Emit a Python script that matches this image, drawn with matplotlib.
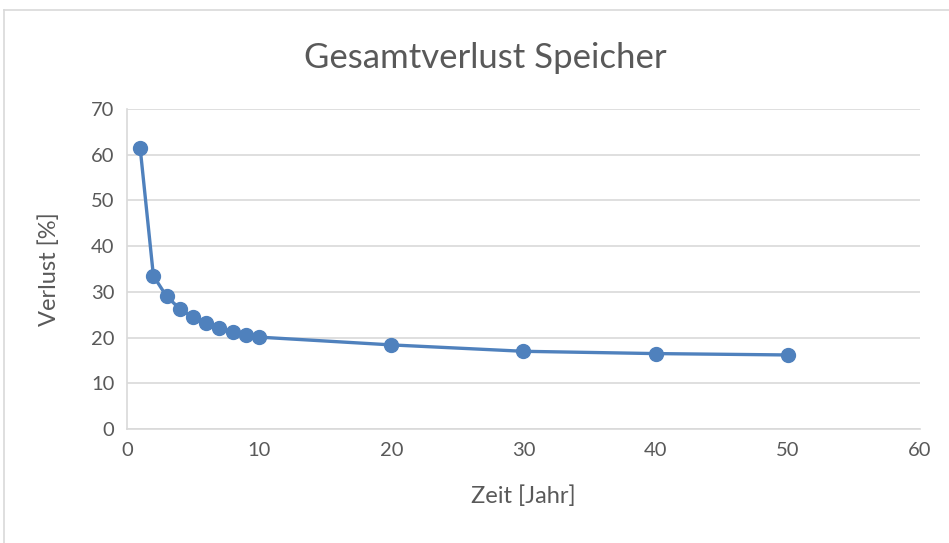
import matplotlib
matplotlib.use("Agg")
import matplotlib.pyplot as plt
from matplotlib.lines import Line2D

# Datos
zeit = [1, 2, 3, 4, 5, 6, 7, 8, 9, 10, 20, 30, 40, 50]
verlust = [61.4, 33.5, 29.0, 26.3, 24.4, 23.1, 22.1, 21.2, 20.5, 20.1, 18.4, 17.0, 16.5, 16.2]

x_ticks = [0, 10, 20, 30, 40, 50, 60]
y_ticks = [0, 10, 20, 30, 40, 50, 60, 70]

plt.rcParams['font.family'] = ['Lato', 'DejaVu Sans']
text_color = '#595959'
grid_color = '#d9d9d9'
line_color = '#4f81bd'

fig = plt.figure(figsize=(9.49, 5.43), dpi=100)
ax = fig.add_axes([0.1338, 0.2099, 0.9694 - 0.1338, 0.7993 - 0.2099])

ax.plot(zeit, verlust, color=line_color, lw=2.4, marker='o', ms=10,
        markerfacecolor=line_color, markeredgecolor=line_color, zorder=3)

ax.set_xlim(0, 60)
ax.set_ylim(0, 70)
ax.set_xticks(x_ticks)
ax.set_yticks(y_ticks)
ax.grid(True, axis='y', color=grid_color, lw=1.2)
ax.set_axisbelow(True)

for s in ['top', 'right']:
    ax.spines[s].set_visible(False)
for s in ['left', 'bottom']:
    ax.spines[s].set_color(grid_color)
    ax.spines[s].set_linewidth(1.2)

ax.tick_params(axis='both', length=0, labelsize=14.5, colors=text_color, pad=9)

ax.set_xlabel('Zeit [Jahr]', fontsize=17, color=text_color, labelpad=19)
ax.set_ylabel('Verlust [%]', fontsize=17, color=text_color, labelpad=22)
fig.text(0.511, 0.893, 'Gesamtverlust Speicher', fontsize=25, color=text_color,
         ha='center', va='center')

# Marco exterior del gráfico
fig.add_artist(Line2D([4 / 949, 1], [1 - 10 / 543, 1 - 10 / 543], color=grid_color, lw=1.2))
fig.add_artist(Line2D([4 / 949, 4 / 949], [0, 1 - 10 / 543], color=grid_color, lw=1.2))

fig.savefig('out.png', dpi=100)
